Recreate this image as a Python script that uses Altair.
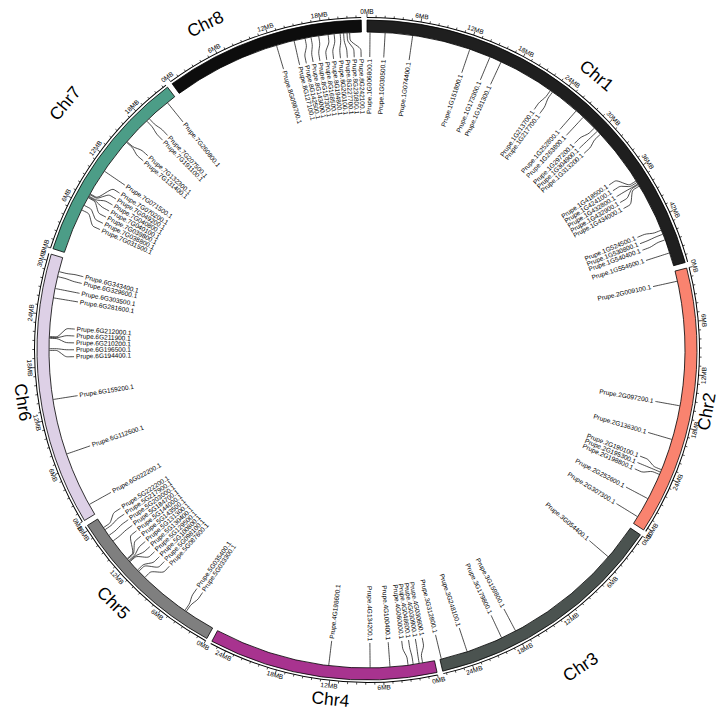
import altair as alt
import pandas as pd
import numpy as np

# ---------------- data ----------------
chroms = ["Chr1", "Chr2", "Chr3", "Chr4", "Chr5", "Chr6", "Chr7", "Chr8"]
chrom_len = [47.85, 30.41, 27.37, 25.84, 18.50, 30.77, 22.39, 22.57]
chrom_colors = ["#1f1f1f", "#f9836f", "#4b5350", "#a8338f", "#7f7f7f", "#ddd0e6", "#4c9d87", "#0d0d0d"]

chr1_genes = ["Prupe.1G006800.1", "Prupe.1G030500.1", "Prupe.1G074400.1", "Prupe.1G151800.1",
              "Prupe.1G173300.1", "Prupe.1G181300.1", "Prupe.1G213700.1", "Prupe.1G217700.1",
              "Prupe.1G252800.1", "Prupe.1G263800.1", "Prupe.1G297200.1", "Prupe.1G304900.1",
              "Prupe.1G313200.1", "Prupe.1G418500.1", "Prupe.1G424100.1", "Prupe.1G432800.1",
              "Prupe.1G432900.1", "Prupe.1G434000.1", "Prupe.1G524500.1", "Prupe.1G530800.1",
              "Prupe.1G540400.1", "Prupe.1G554600.1"]
chr1_pos = [0.35, 2.1, 5.3, 12.1, 14.6, 16.0, 22.6, 22.9, 26.4, 27.5, 29.3, 29.8, 30.3,
            37.1, 37.3, 37.5, 37.6, 37.8, 43.5, 44.0, 44.7, 46.3]

chr2_genes = ["Prupe.2G009100.1", "Prupe.2G097200.1", "Prupe.2G136300.1", "Prupe.2G190100.1",
              "Prupe.2G195300.1", "Prupe.2G198800.1", "Prupe.2G252600.1", "Prupe.2G307300.1"]
chr2_pos = [1.2, 15.7, 19.7, 23.4, 23.7, 24.0, 27.1, 29.5]

chr3_genes = ["Prupe.3G054400.1", "Prupe.3G159800.1", "Prupe.3G179800.1", "Prupe.3G248100.1",
              "Prupe.3G312800.1"]
chr3_pos = [4.2, 18.0, 19.8, 24.1, 27.2]

chr4_genes = ["Prupe.4G030600.1", "Prupe.4G030900.1", "Prupe.4G048600.1", "Prupe.4G060000.1",
              "Prupe.4G100400.1", "Prupe.4G134200.1", "Prupe.4G198600.1"]
chr4_pos = [1.4, 1.8, 2.5, 3.1, 5.2, 7.5, 12.3]

chr5_genes = ["Prupe.5G033300.1", "Prupe.5G035400.1", "Prupe.5G087600.1", "Prupe.5G098100.1",
              "Prupe.5G100800.1", "Prupe.5G129500.1", "Prupe.5G130400.1", "Prupe.5G131300.1",
              "Prupe.5G143500.1", "Prupe.5G144000.1", "Prupe.5G184700.1", "Prupe.5G203000.1",
              "Prupe.5G217900.1", "Prupe.5G222200.1"]
chr5_pos = [3.6, 3.8, 9.8, 10.8, 11.0, 12.3, 12.4, 12.5, 12.7, 12.8, 15.4, 16.2, 17.0, 17.3]

chr6_genes = ["Prupe.6G022200.1", "Prupe.6G112600.1", "Prupe.6G159200.1", "Prupe.6G194400.1",
              "Prupe.6G196500.1", "Prupe.6G210200.1", "Prupe.6G211900.1", "Prupe.6G212000.1",
              "Prupe.6G281600.1", "Prupe.6G303500.1", "Prupe.6G329600.1", "Prupe.6G343400.1"]
chr6_pos = [1.3, 7.7, 14.2, 19.9, 20.1, 21.3, 21.4, 21.5, 26.0, 27.1, 28.5, 29.1]

chr7_genes = ["Prupe.7G031500.1", "Prupe.7G038800.1", "Prupe.7G039800.1", "Prupe.7G040100.1",
              "Prupe.7G040800.1", "Prupe.7G049200.1", "Prupe.7G070200.1", "Prupe.7G071500.1",
              "Prupe.7G131400.1", "Prupe.7G132300.1", "Prupe.7G191100.1", "Prupe.7G207500.1",
              "Prupe.7G260800.1"]
chr7_pos = [5.3, 5.9, 6.9, 7.0, 7.1, 7.3, 7.4, 10.5, 14.7, 14.8, 18.1, 18.5, 21.3]

chr8_genes = ["Prupe.8G098700.1", "Prupe.8G127100.1", "Prupe.8G142500.1", "Prupe.8G143000.1",
              "Prupe.8G157300.1", "Prupe.8G168500.1", "Prupe.8G194800.1", "Prupe.8G200100.1",
              "Prupe.8G227700.1", "Prupe.8G230800.1", "Prupe.8G242100.1"]
chr8_pos = [12.6, 14.7, 16.0, 16.7, 17.6, 18.7, 19.4, 20.1, 20.5, 20.9, 21.2]

gene_lists = [chr1_genes, chr2_genes, chr3_genes, chr4_genes, chr5_genes, chr6_genes, chr7_genes, chr8_genes]
pos_lists = [chr1_pos, chr2_pos, chr3_pos, chr4_pos, chr5_pos, chr6_pos, chr7_pos, chr8_pos]

# ---------------- layout (placement only) ----------------
label_at_mb = [25.6, 15.8, 14.1, 11.7, 10.3, 14.4, 13.7, 6.3]
label_radius = [357, 346, 383, 352, 359, 349, 389, 363]

GAP = 1.0
K = (360 - GAP * len(chroms)) / sum(chrom_len)
starts = []
acc = 0.0
for L in chrom_len:
    starts.append(acc)
    acc += L * K + GAP

R_IN, R_OUT = 318, 330
R_AXIS = 332.5
R_LAB_TICK = 338
FONT = "Liberation Sans"
W, H = 712, 707
CX, CY = 359, 342


def xy(theta_deg, r):
    t = np.radians(theta_deg)
    return r * np.sin(t), r * np.cos(t)


def flip_rot(theta):
    theta = theta % 360
    rot = theta if (theta <= 90 or theta >= 270) else theta - 180
    return rot % 360


xs = alt.Scale(domain=[-CX, W - CX], nice=False, zero=False)
ys = alt.Scale(domain=[-(H - CY), CY], nice=False, zero=False)

# chromosome bands
band_df = pd.DataFrame({
    "chrom": chroms,
    "t0": [np.radians(s) for s in starts],
    "t1": [np.radians(s + L * K) for s, L in zip(starts, chrom_len)],
    "color": chrom_colors,
})
center_x = alt.XDatum(0, scale=xs, axis=None)
center_y = alt.YDatum(0, scale=ys, axis=None)

bands = alt.Chart(band_df).mark_arc(radius=R_OUT, radius2=R_IN, stroke="black", strokeWidth=0.8).encode(
    theta=alt.Theta("t0:Q", scale=None), theta2=alt.Theta2("t1"),
    fill=alt.Fill("color:N", scale=None), x=center_x, y=center_y)

axis_arcs = alt.Chart(band_df).mark_arc(radius=R_AXIS + 0.5, radius2=R_AXIS - 0.5, fill="black").encode(
    theta=alt.Theta("t0:Q", scale=None), theta2=alt.Theta2("t1"), x=center_x, y=center_y)

# ticks
tick_rows = []
for c, s, L in zip(chroms, starts, chrom_len):
    for m in range(0, int(np.floor(L)) + 1):
        th = s + m * K
        major = (m % 6 == 0)
        r2 = R_AXIS + (3.5 if major else 2.2)
        x1, y1 = xy(th, R_AXIS)
        x2, y2 = xy(th, r2)
        tick_rows.append({"x": x1, "y": y1, "x2": x2, "y2": y2, "major": major,
                          "label": f"{m}MB", "theta": th})
tick_df = pd.DataFrame(tick_rows)
ticks = alt.Chart(tick_df).mark_rule(color="black", strokeWidth=0.7).encode(
    x=alt.X("x:Q", scale=xs, axis=None), y=alt.Y("y:Q", scale=ys, axis=None), x2="x2", y2="y2")

tl = tick_df[tick_df["major"]].copy()
tl["lx"], tl["ly"] = xy(tl["theta"].values, R_LAB_TICK)
tl["rot"] = [flip_rot(t) for t in tl["theta"]]
tick_labels = alt.Chart(tl).mark_text(fontSize=6.5, font=FONT, baseline="middle", align="center",
                                      color="black").encode(
    x=alt.X("lx:Q", scale=xs, axis=None), y=alt.Y("ly:Q", scale=ys, axis=None),
    text="label:N", angle=alt.Angle("rot:Q", scale=None))

# chromosome labels
cl = pd.DataFrame({"chrom": chroms,
                   "theta": [s + m * K for s, m in zip(starts, label_at_mb)],
                   "r": label_radius})
cl["lx"], cl["ly"] = xy(cl["theta"].values, cl["r"].values)
cl["rot"] = [flip_rot(t) for t in cl["theta"]]
chr_labels = alt.Chart(cl).mark_text(fontSize=17.5, font=FONT, baseline="middle", align="center",
                                     color="black").encode(
    x=alt.X("lx:Q", scale=xs, axis=None), y=alt.Y("ly:Q", scale=ys, axis=None),
    text="chrom:N", angle=alt.Angle("rot:Q", scale=None))

# genes
g_names, g_theta = [], []
for s, genes, pos in zip(starts, gene_lists, pos_lists):
    for g, p in zip(genes, pos):
        g_names.append(g)
        g_theta.append(s + p * K)
g_theta = np.array(g_theta)


def spread(thetas, d):
    order = np.argsort(thetas)
    th = thetas[order]

    def positions(grp):
        c = th[grp].mean()
        n = len(grp)
        return c + (np.arange(n) - (n - 1) / 2) * d

    groups = [[i] for i in range(len(th))]
    changed = True
    while changed:
        changed = False
        new = [groups[0]]
        for grp in groups[1:]:
            if positions(grp)[0] - positions(new[-1])[-1] < d - 1e-9:
                new[-1] = new[-1] + grp
                changed = True
            else:
                new.append(grp)
        groups = new
    out = np.empty(len(th))
    for grp in groups:
        out[grp] = positions(grp)
    res = np.empty(len(th))
    res[order] = out
    return res


lab_theta = spread(g_theta, 1.35)

line_rows = []
for g, tg, tlb in zip(g_names, g_theta, lab_theta):
    pts = [(tg, R_IN - 0.5), (tg, 312), (tg, 309), (tlb, 302), (tlb, 299), (tlb, 293)]
    for k, (t, r) in enumerate(pts):
        x, y = xy(t, r)
        line_rows.append({"gene": g, "k": k, "x": x, "y": y})
line_df = pd.DataFrame(line_rows)
links = alt.Chart(line_df).mark_line(color="black", strokeWidth=0.7, interpolate="basis").encode(
    x=alt.X("x:Q", scale=xs, axis=None), y=alt.Y("y:Q", scale=ys, axis=None),
    detail="gene:N", order="k:Q")

gl = pd.DataFrame({"gene": g_names, "theta": lab_theta})
gl["lx"], gl["ly"] = xy(gl["theta"].values, 291)
gl["right"] = (gl["theta"] % 360) < 180
gl["rot"] = np.where(gl["right"], (gl["theta"] - 90) % 360, (gl["theta"] + 90) % 360)
gl["side"] = np.where(gl["right"], "R", "L")

gene_right = alt.Chart(gl).transform_filter(alt.datum.side == "R").mark_text(
    fontSize=6.5, font=FONT, baseline="middle", align="right", color="black").encode(
    x=alt.X("lx:Q", scale=xs, axis=None), y=alt.Y("ly:Q", scale=ys, axis=None),
    text="gene:N", angle=alt.Angle("rot:Q", scale=None))
gene_left = alt.Chart(gl).transform_filter(alt.datum.side == "L").mark_text(
    fontSize=6.5, font=FONT, baseline="middle", align="left", color="black").encode(
    x=alt.X("lx:Q", scale=xs, axis=None), y=alt.Y("ly:Q", scale=ys, axis=None),
    text="gene:N", angle=alt.Angle("rot:Q", scale=None))

chart = alt.layer(axis_arcs, ticks, bands, tick_labels, chr_labels, links, gene_right, gene_left).properties(
    width=W, height=H, padding=0, autosize=alt.AutoSizeParams(type="none"),
    background="white").configure_view(strokeWidth=0)

chart.save("out.html", embed_options={"renderer": "svg", "actions": False})
